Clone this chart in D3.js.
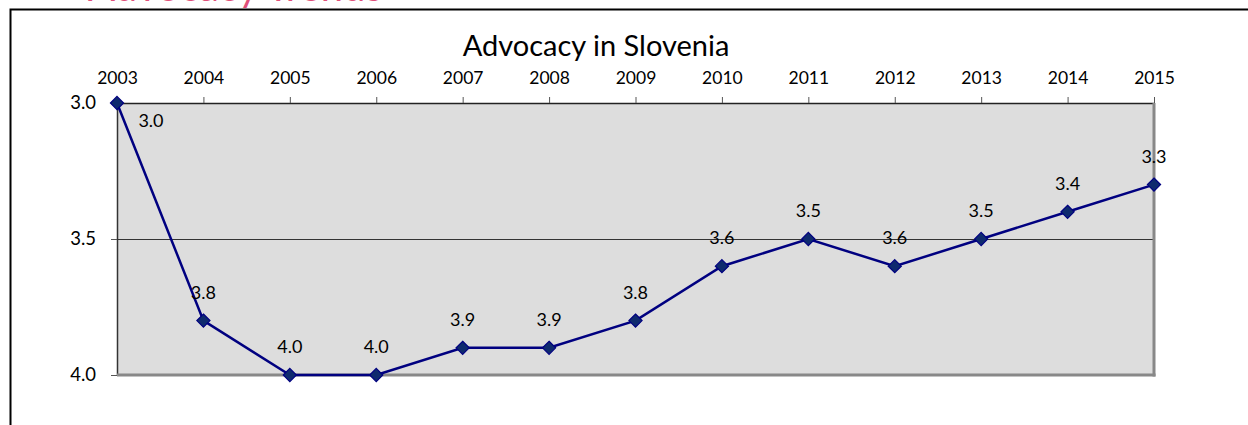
<!DOCTYPE html>
<html><head><meta charset="utf-8">
<script src="https://cdn.jsdelivr.net/npm/d3@7"></script>
<style>html,body{margin:0;padding:0;background:#fff;}svg{display:block;}</style>
</head><body>
<svg id="chart" width="1248" height="425"></svg>
<script>
const years = ["2003","2004","2005","2006","2007","2008","2009","2010","2011","2012","2013","2014","2015"];
const scores = [3.0,3.8,4.0,4.0,3.9,3.9,3.8,3.6,3.5,3.6,3.5,3.4,3.3];
const yTicks = [3.0,3.5,4.0];
const title = "Advocacy in Slovenia";

const svg = d3.select("#chart");
const font = "Lato, 'Open Sans', sans-serif";
const L = 117, R = 1154, T = 103, B = 375;

// slide frame and clipped heading
svg.append("text").attr("x", 88).attr("y", 1).attr("fill", "#e0507a")
  .attr("font-family", font).attr("font-size", 40).text("Advocacy Trends");
svg.append("path").attr("d", `M10.5,425 V9.5 H1248`).attr("fill", "none")
  .attr("stroke", "#000").attr("stroke-width", 2);

const x = d3.scalePoint().domain(years).range([L, R]);
const y = d3.scaleLinear().domain([3.0, 4.0]).range([T, B]);

// plot area
svg.append("rect").attr("x", L).attr("y", T).attr("width", R - L).attr("height", B - T)
  .attr("fill", "#dddddd");
// gridline
svg.append("g").selectAll("line").data(yTicks.slice(1, -1)).join("line")
  .attr("x1", L).attr("x2", R).attr("y1", d => Math.round(y(d)) + 0.5).attr("y2", d => Math.round(y(d)) + 0.5)
  .attr("stroke", "#333").attr("stroke-width", 1);
// borders
svg.append("line").attr("x1", L).attr("x2", R).attr("y1", T + 0.5).attr("y2", T + 0.5).attr("stroke", "#222").attr("stroke-width", 1.5);
svg.append("line").attr("x1", L + 0.5).attr("x2", L + 0.5).attr("y1", T).attr("y2", B).attr("stroke", "#333").attr("stroke-width", 1.5);
svg.append("line").attr("x1", R).attr("x2", R).attr("y1", T).attr("y2", B + 1.5).attr("stroke", "#888").attr("stroke-width", 3);
svg.append("line").attr("x1", L).attr("x2", R + 1.5).attr("y1", B).attr("y2", B).attr("stroke", "#888").attr("stroke-width", 3);

// top x axis
const xAxis = svg.append("g").attr("transform", `translate(0,${T})`)
  .call(d3.axisTop(x).tickSize(6).tickPadding(13));
xAxis.select(".domain").remove();
xAxis.selectAll(".tick line").attr("stroke", "#555");
xAxis.selectAll("text").attr("font-family", font).attr("font-size", 17.5).attr("fill", "#000");

// left y axis
const yAxis = svg.append("g").attr("transform", `translate(${L},0)`)
  .call(d3.axisLeft(y).tickValues(yTicks).tickFormat(d3.format(".1f")).tickSize(6).tickPadding(15));
yAxis.select(".domain").remove();
yAxis.selectAll(".tick line").attr("stroke", "#555");
yAxis.selectAll("text").attr("font-family", font).attr("font-size", 18.5).attr("fill", "#000");

// title
svg.append("text").attr("x", 596).attr("y", 56).attr("text-anchor", "middle")
  .attr("font-family", font).attr("font-size", 29).attr("fill", "#000").text(title);

const data = years.map((yr, i) => ({yr, v: scores[i]}));
// line
svg.append("path").datum(data)
  .attr("d", d3.line().x(d => x(d.yr)).y(d => y(d.v)))
  .attr("fill", "none").attr("stroke", "#000080").attr("stroke-width", 2.5);
// markers
svg.append("g").selectAll("path").data(data).join("path")
  .attr("transform", d => `translate(${x(d.yr)},${y(d.v)})`)
  .attr("d", d3.symbol(d3.symbolDiamond2, 110)())
  .attr("fill", "#0e2a6e").attr("stroke", "#000080").attr("stroke-width", 1.2);
// labels
svg.append("g").selectAll("text").data(data).join("text")
  .attr("x", (d, i) => i === 0 ? x(d.yr) + 34 : x(d.yr))
  .attr("y", (d, i) => i === 0 ? y(d.v) + 24 : y(d.v) - 22)
  .attr("text-anchor", "middle")
  .attr("font-family", font).attr("font-size", 18).attr("fill", "#000")
  .text(d => d3.format(".1f")(d.v));
</script>
</body></html>
